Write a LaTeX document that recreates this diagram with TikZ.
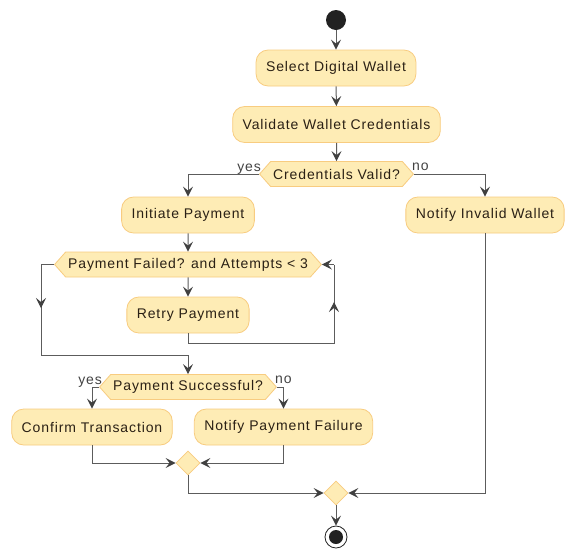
\documentclass[tikz,border=0pt]{standalone}
\usepackage{fontspec}
\setmainfont{Liberation Sans}[LetterSpace=6.3]
\usetikzlibrary{arrows.meta,shapes.geometric,shapes.symbols,calc}
\definecolor{actfill}{HTML}{FEECB5}
\definecolor{actbord}{HTML}{F8CC80}
\definecolor{txt}{HTML}{2A2015}
\definecolor{edge}{HTML}{5C5C5C}
\definecolor{tipc}{HTML}{404040}
\definecolor{dark}{HTML}{222222}
\begin{document}
\begin{tikzpicture}[x=1pt,y=-1pt,
  act/.style={rectangle, rounded corners=12pt, draw=actbord, fill=actfill, line width=0.8pt,
    minimum height=36pt, inner xsep=10pt, inner ysep=0pt, text=txt, font=\fontsize{14}{16}\selectfont},
  dec/.style={signal, signal to=west and east, signal pointer angle=97, draw=actbord, fill=actfill,
    line width=0.8pt, minimum height=25pt, inner xsep=2.5pt, inner ysep=0pt, text=txt,
    font=\fontsize{14}{16}\selectfont},
  merge/.style={diamond, draw=actbord, fill=actfill, line width=0.8pt, minimum width=24pt,
    minimum height=24pt, inner sep=0pt},
  lbl/.style={inner sep=0pt, text=dark!85, font=\fontsize{14}{16}\selectfont},
  line/.style={draw=edge, line width=1pt},
  flow/.style={line, -{Stealth[length=10pt, width=10pt, inset=4pt, color=tipc]}}
]
\fill[white] (0,0) rectangle (576,558);
\useasboundingbox (0,0) rectangle (576,558);

% nodes
\node[circle, fill=dark, minimum size=20pt, inner sep=0pt] (start) at (336,20) {};
\node[act] (sel) at (336,68) {Select Digital Wallet};
\node[act] (val) at (336.5,124.5) {Validate Wallet Credentials};
\node[dec] (cv) at (336.5,174) {Credentials Valid?};
\node[act] (init) at (188,215) {Initiate Payment};
\node[act] (niw) at (485,215) {Notify Invalid Wallet};
\node[dec] (loop) at (188,264.5) {Payment Failed? and Attempts < 3};
\node[act] (retry) at (188,315) {Retry Payment};
\node[dec] (ps) at (188,387) {Payment Successful?};
\node[act] (ct) at (92,427) {Confirm Transaction};
\node[act] (npf) at (283.5,427) {Notify Payment Failure};
\node[merge] (m1) at (188,463) {};
\node[merge] (m2) at (336,493) {};
\node[circle, draw=dark, fill=white, line width=0.8pt, minimum size=22pt, inner sep=0pt] (endn) at (336,537) {};
\fill[dark] (endn.center) circle (7);

% labels
\node[lbl, anchor=base east] (y1) at (261,171) {yes};
\node[lbl, anchor=base west] (n1) at (412,170) {no};
\node[lbl, anchor=base east] (y2) at (102,384) {yes};
\node[lbl, anchor=base west] (n2) at (275,383) {no};

% coordinates
\coordinate (rb) at (188,343);
\coordinate (rr) at (334,343);
\coordinate (rt) at (334,264.5);
\coordinate (ru) at (334,302);
\coordinate (lt) at (41,264.5);
\coordinate (lb) at (41,355);
\coordinate (lm) at (188,355);
\coordinate (ld) at (41,308);

% connectors
\draw[flow] (start) -- (sel);
\draw[flow] (sel) -- (val);
\draw[flow] (val) -- (cv);
\draw[flow] (cv.west) -| (init.north);
\draw[flow] (cv.east) -| (niw.north);
\draw[flow] (init) -- (loop);
\draw[flow] (loop) -- (retry);
\draw[line] (retry.south) -- (rb) -- (rr) -- (rt);
\draw[flow] (rr) -- (ru);
\draw[flow] (rt) -- (loop.east);
\draw[line] (loop.west) -- (lt) -- (lb) -- (lm);
\draw[flow] (lt) -- (ld);
\draw[flow] (lm) -- (ps.north);
\draw[flow] (ps.west) -| (ct.north);
\draw[flow] (ps.east) -| (npf.north);
\draw[flow] (ct.south) |- (m1.west);
\draw[flow] (npf.south) |- (m1.east);
\draw[flow] (m1.south) |- (m2.west);
\draw[flow] (niw.south) |- (m2.east);
\draw[flow] (m2) -- (endn);
\end{tikzpicture}
\end{document}
